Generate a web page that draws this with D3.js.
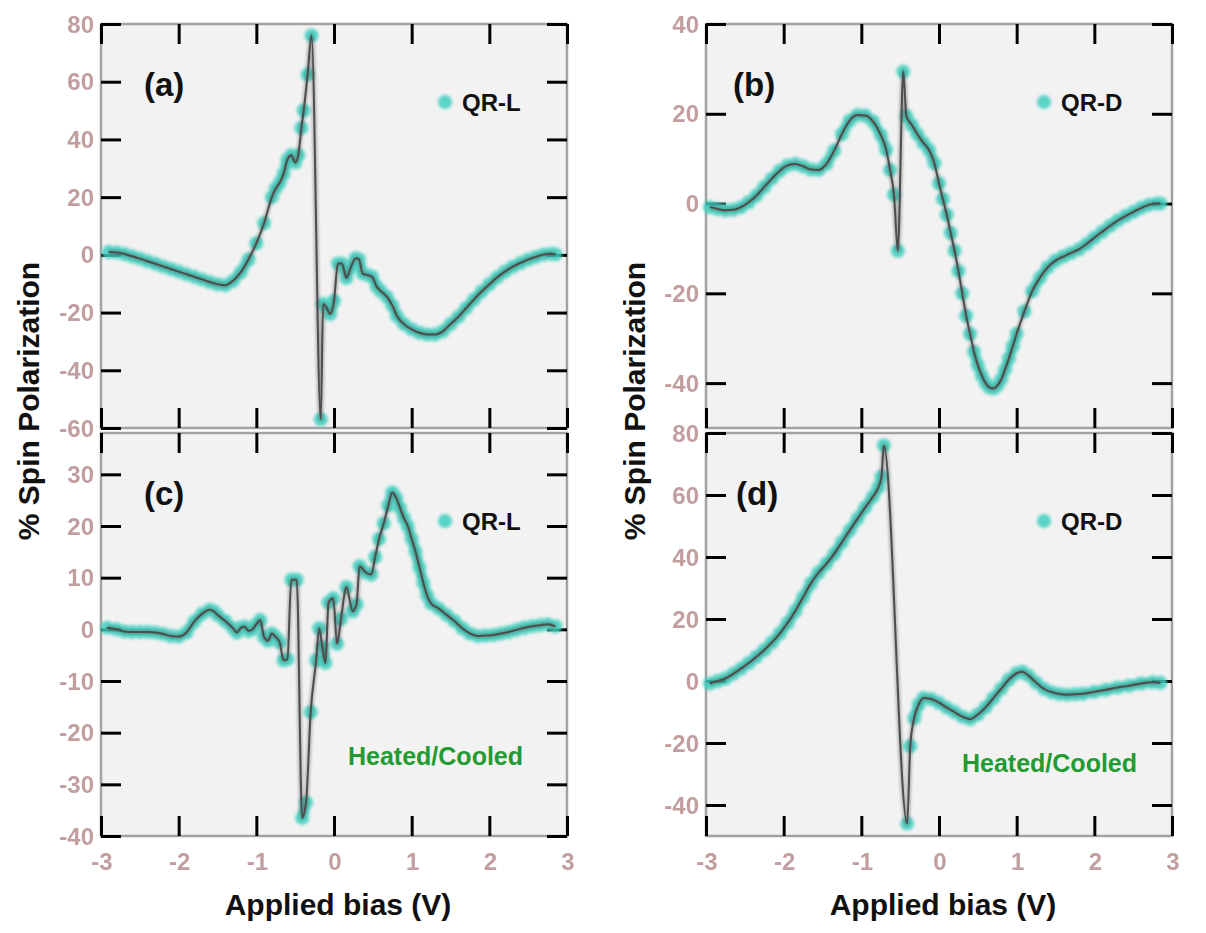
<!DOCTYPE html>
<html>
<head>
<meta charset="utf-8">
<script src="https://cdn.jsdelivr.net/npm/d3@7"></script>
<style>
  html, body { margin: 0; padding: 0; background: #ffffff; }
  svg { display: block; }
  text { font-family: "Liberation Sans", Arial, Helvetica, sans-serif; }
</style>
</head>
<body>
<svg id="chart" width="1206" height="933"></svg>
<script>
// ---------------- DATA ----------------
const xTickValues = [-3, -2, -1, 0, 1, 2, 3];
const xTickLabels = ["-3", "-2", "-1", "0", "1", "2", "3"];

const yTicksA = [-60, -40, -20, 0, 20, 40, 60, 80];
const yTicksB = [-40, -20, 0, 20, 40];
const yTicksC = [-40, -30, -20, -10, 0, 10, 20, 30];
const yTicksD = [-40, -20, 0, 20, 40, 60, 80];

const panelLabels = ["(a)", "(b)", "(c)", "(d)"];
const legendLabels = ["QR-L", "QR-D", "QR-L", "QR-D"];
const noteLabels = ["", "", "Heated/Cooled", "Heated/Cooled"];
const xTitle = "Applied bias (V)";
const yTitle = "% Spin Polarization";

// Panel (a) QR-L
const biasA = [-2.9, -2.8, -2.7, -2.6, -2.5, -2.4, -2.3, -2.2, -2.1, -2.0, -1.9, -1.8, -1.7, -1.6, -1.5, -1.4, -1.3, -1.2, -1.1, -1.0,
  -0.9, -0.8, -0.75, -0.7, -0.65, -0.6, -0.55, -0.5, -0.46, -0.42, -0.39, -0.34, -0.29, -0.17, -0.14, -0.1, -0.05, 0.0, 0.05, 0.1,
  0.16, 0.22, 0.28, 0.32, 0.37, 0.43, 0.49, 0.55, 0.6, 0.68, 0.75, 0.81, 0.9, 1.0, 1.1, 1.2, 1.3, 1.4, 1.5, 1.6,
  1.7, 1.8, 1.9, 2.0, 2.1, 2.2, 2.3, 2.4, 2.5, 2.6, 2.7, 2.8, 2.85];
const spinA = [1.0, 0.8, 0.3, -0.5, -1.3, -2.2, -3.1, -4.0, -4.9, -5.8, -6.7, -7.6, -8.5, -9.4, -10.2, -10.5, -9.0, -6.0, -1.5, 4.0,
  11, 20, 23, 25, 28, 33, 34.5, 32, 34.5, 44, 50, 62.5, 76, -57, -17, -18, -20.5, -16, -3, -3,
  -8, -4, -1.2, -1.5, -6.5, -7, -7.6, -11, -12.5, -14.5, -17.5, -21.2, -24, -25.8, -27, -27.6, -27.6, -26.5, -24, -21.5,
  -18.5, -15.5, -12.7, -10.2, -7.8, -5.8, -4.1, -2.8, -1.6, -0.7, 0.1, 0.4, 0.2];

// Panel (b) QR-D
const biasB = [-2.95, -2.85, -2.75, -2.65, -2.55, -2.45, -2.35, -2.25, -2.15, -2.05, -1.95, -1.85, -1.75, -1.65, -1.55, -1.45, -1.35, -1.25, -1.15, -1.05,
  -0.95, -0.85, -0.75, -0.68, -0.63, -0.58, -0.53, -0.46, -0.42, -0.35, -0.28, -0.2, -0.13, -0.06, 0.0, 0.05, 0.1, 0.15, 0.2, 0.25,
  0.3, 0.35, 0.4, 0.45, 0.5, 0.55, 0.6, 0.65, 0.7, 0.75, 0.8, 0.85, 0.9, 0.95, 1.0, 1.1, 1.2, 1.3, 1.4, 1.5,
  1.6, 1.7, 1.8, 1.9, 2.0, 2.1, 2.2, 2.3, 2.4, 2.5, 2.6, 2.7, 2.8, 2.85];
const spinB = [-0.8, -1.2, -1.5, -1.4, -0.8, 0.3, 1.8, 3.7, 5.6, 7.3, 8.5, 8.8, 8.3, 7.6, 7.5, 8.8, 11.8, 15.5, 18.5, 19.7,
  19.6, 18.3, 15.3, 12, 7.5, 2, -10.5, 29.4, 19.5, 17.5, 15.5, 13.5, 12, 9, 4.5, 1, -2.5, -6.5, -10.5, -15,
  -20, -25, -29, -33, -36, -38.3, -40, -41, -41.2, -40.6, -39.2, -37, -34.5, -31.8, -29, -24, -19.5, -16.5, -14.2, -12.7,
  -11.8, -11, -10.2, -9, -7.6, -6.3, -5, -3.8, -2.8, -1.9, -1.0, -0.3, 0, 0];

// Panel (c) QR-L heated/cooled
const biasC = [-2.92, -2.8, -2.7, -2.6, -2.5, -2.4, -2.3, -2.2, -2.1, -2.0, -1.9, -1.8, -1.7, -1.6, -1.55, -1.5, -1.4, -1.3, -1.25, -1.2,
  -1.15, -1.1, -1.05, -1.0, -0.95, -0.9, -0.85, -0.8, -0.75, -0.7, -0.65, -0.6, -0.55, -0.48, -0.41, -0.36, -0.3, -0.23, -0.19, -0.15,
  -0.11, -0.07, -0.01, 0.04, 0.09, 0.16, 0.24, 0.29, 0.33, 0.41, 0.48, 0.53, 0.58, 0.64, 0.7, 0.75, 0.8, 0.85, 0.9, 0.95,
  1.0, 1.05, 1.1, 1.15, 1.2, 1.25, 1.35, 1.45, 1.55, 1.65, 1.75, 1.85, 1.95, 2.05, 2.15, 2.25, 2.35, 2.45, 2.55, 2.65,
  2.75, 2.85];
const spinC = [0.3, 0, -0.4, -0.5, -0.5, -0.5, -0.6, -0.9, -1.3, -1.4, -0.6, 1.5, 3.0, 3.8, 3.5, 2.8, 1.6, 0.2, -0.6, 0.3,
  0.5, -0.3, 0, 1.0, 1.8, -1.5, -2.2, -0.8, -1.5, -2.5, -6, -5.8, 9.6, 9.6, -36.5, -33.5, -16, -6, 0.2, -3.5,
  -6.5, 5.2, 6, -2.8, 2, 8.2, 3.5, 4.8, 12.2, 11, 10.6, 14, 17.5, 20.5, 24, 26.5, 25.5, 23.5, 21.5, 20,
  17.5, 15, 12, 9, 6.5, 5, 4, 2.8, 1.6, 0.2, -0.8, -1.3, -1.2, -1.1, -0.8, -0.5, -0.1, 0.3, 0.6, 0.8,
  1.0, 0.6];

// Panel (d) QR-D heated/cooled
const biasD = [-2.95, -2.85, -2.75, -2.65, -2.55, -2.45, -2.35, -2.25, -2.15, -2.05, -1.95, -1.85, -1.75, -1.65, -1.55, -1.45, -1.35, -1.25, -1.15, -1.05,
  -0.95, -0.85, -0.78, -0.74, -0.71, -0.41, -0.37, -0.32, -0.26, -0.2, -0.1, 0.0, 0.1, 0.2, 0.3, 0.4, 0.5, 0.6, 0.7, 0.8,
  0.9, 1.0, 1.07, 1.15, 1.25, 1.35, 1.45, 1.55, 1.65, 1.75, 1.85, 2.0, 2.15, 2.3, 2.45, 2.6, 2.75, 2.85];
const spinD = [-0.8, 0, 0.8, 2.3, 4.0, 5.8, 7.8, 10, 12.5, 15.3, 18.7, 22.6, 27, 31.5, 35, 37.8, 41, 44.8, 48.6, 52.3,
  56, 59.5, 62.5, 66, 76, -46, -21, -12, -7.5, -5.5, -5.8, -7, -8.6, -10, -11.5, -12.3, -10.8, -8.5, -5.5, -2.5,
  0.5, 2.5, 3, 1.8, -0.5, -2.5, -3.6, -4.2, -4.4, -4.3, -4.1, -3.5, -2.8, -2.1, -1.5, -0.8, -0.4, -0.6];

// ---------------- LAYOUT ----------------
const svg = d3.select("#chart");
const defs = svg.append("defs");
defs.append("filter").attr("id", "blurDots").attr("x", "-50%").attr("y", "-50%").attr("width", "200%").attr("height", "200%")
  .append("feGaussianBlur").attr("stdDeviation", 1.5);
defs.append("filter").attr("id", "blurShadow").attr("x", "-20%").attr("y", "-20%").attr("width", "140%").attr("height", "140%")
  .append("feGaussianBlur").attr("stdDeviation", 1.8);
defs.append("filter").attr("id", "soft").attr("x", "-10%").attr("y", "-10%").attr("width", "120%").attr("height", "120%")
  .append("feGaussianBlur").attr("stdDeviation", 0.4);

const panels = [
  { x0: 101, x1: 567, y0: 24, y1: 428, domain: [-60, 80], yTicks: yTicksA, bias: biasA, spin: spinA, xLabels: false,
    lab: [144, 96], leg: [445, 102], note: null },
  { x0: 706, x1: 1172, y0: 24, y1: 428, domain: [-50, 40], yTicks: yTicksB, bias: biasB, spin: spinB, xLabels: false,
    lab: [733, 96], leg: [1044, 102], note: null },
  { x0: 101, x1: 567, y0: 433, y1: 836, domain: [-40, 38], yTicks: yTicksC, bias: biasC, spin: spinC, xLabels: true,
    lab: [144, 505], leg: [445, 521], note: [348, 765] },
  { x0: 706, x1: 1172, y0: 433, y1: 836, domain: [-50, 80], yTicks: yTicksD, bias: biasD, spin: spinD, xLabels: true,
    lab: [736, 505], leg: [1044, 521], note: [962, 772] }
];

const tickColor = "#c29e9e";
const turq = "#3fcfbf";

panels.forEach((p, i) => {
  const x = d3.scaleLinear().domain([-3, 3]).range([p.x0, p.x1]);
  const y = d3.scaleLinear().domain(p.domain).range([p.y1, p.y0]);
  const g = svg.append("g");

  // background
  g.append("rect").attr("x", p.x0).attr("y", p.y0).attr("width", p.x1 - p.x0).attr("height", p.y1 - p.y0)
    .attr("fill", "#f2f2f2").attr("stroke", "#a2a2a2").attr("stroke-width", 2.5);

  // ticks (inward, mirrored)
  const tl = 20;
  const bottomAxis = d3.axisBottom(x).tickValues(xTickValues).tickSize(-tl).tickFormat("");
  const topAxis = d3.axisTop(x).tickValues(xTickValues).tickSize(-tl).tickFormat("");
  const leftAxis = d3.axisLeft(y).tickValues(p.yTicks).tickSize(-tl).tickFormat("");
  const rightAxis = d3.axisRight(y).tickValues(p.yTicks).tickSize(-tl).tickFormat("");
  [[bottomAxis, `translate(0,${p.y1})`], [topAxis, `translate(0,${p.y0})`],
   [leftAxis, `translate(${p.x0},0)`], [rightAxis, `translate(${p.x1},0)`]].forEach(([ax, tr]) => {
    const a = g.append("g").attr("transform", tr).call(ax);
    a.select(".domain").remove();
    a.selectAll(".tick line").attr("stroke", "#000").attr("stroke-width", 3);
  });

  // y tick labels
  g.append("g").attr("filter", "url(#soft)").selectAll("text").data(p.yTicks).join("text")
    .attr("x", p.x0 - 7).attr("y", d => y(d)).attr("dy", "0.36em")
    .attr("text-anchor", "end").attr("font-size", 24).attr("font-weight", "bold").attr("fill", tickColor)
    .text(d => String(d));

  // x tick labels
  if (p.xLabels) {
    g.append("g").attr("filter", "url(#soft)").selectAll("text").data(xTickValues).join("text")
      .attr("x", d => x(d) + 1).attr("y", p.y1 + 34)
      .attr("text-anchor", "middle").attr("font-size", 24).attr("font-weight", "bold").attr("fill", tickColor)
      .text((d, k) => xTickLabels[k]);
    g.append("text").attr("x", (p.x0 + p.x1) / 2 + 4).attr("y", 915)
      .attr("text-anchor", "middle").attr("font-size", 30).attr("font-weight", "bold").attr("fill", "#111")
      .text(xTitle);
  }

  // data
  const pts = p.bias.map((b, k) => [b, p.spin[k]]);
  const line = d3.line().x(d => x(d[0])).y(d => y(d[1])).curve(d3.curveMonotoneX);

  // turquoise band: markers plus joins between close neighbours
  const band = g.append("g").attr("filter", "url(#blurDots)").attr("opacity", 0.85);
  const pairs = d3.pairs(pts).filter(([a, b]) => Math.hypot(x(b[0]) - x(a[0]), y(b[1]) - y(a[1])) < 16);
  band.selectAll("path").data(pairs).join("path")
    .attr("d", d => d3.line().x(q => x(q[0])).y(q => y(q[1]))(d))
    .attr("stroke", turq).attr("stroke-width", 11).attr("stroke-linecap", "round").attr("fill", "none");
  band.selectAll("circle").data(pts).join("circle")
    .attr("cx", d => x(d[0])).attr("cy", d => y(d[1])).attr("r", 7)
    .attr("fill", turq);

  g.append("path").datum(pts).attr("d", line).attr("fill", "none")
    .attr("stroke", "#222").attr("stroke-opacity", 0.35).attr("stroke-width", 4).attr("filter", "url(#blurShadow)");
  g.append("path").datum(pts).attr("d", line).attr("fill", "none")
    .attr("stroke", "#4d4d4d").attr("stroke-width", 2).attr("stroke-linejoin", "round");

  // panel label
  g.append("text").attr("x", p.lab[0]).attr("y", p.lab[1]).attr("font-size", 33).attr("font-weight", "bold")
    .attr("fill", "#111").text(panelLabels[i]);

  // legend
  g.append("circle").attr("cx", p.leg[0]).attr("cy", p.leg[1]).attr("r", 7).attr("fill", turq)
    .attr("fill-opacity", 0.85).attr("filter", "url(#blurDots)");
  g.append("text").attr("x", p.leg[0] + 17).attr("y", p.leg[1]).attr("dy", "0.36em")
    .attr("font-size", 24).attr("font-weight", "bold").attr("fill", "#111").text(legendLabels[i]);

  if (p.note) {
    g.append("text").attr("x", p.note[0]).attr("y", p.note[1]).attr("font-size", 25).attr("font-weight", "bold")
      .attr("fill", "#239b33").text(noteLabels[i]);
  }
});

// y axis titles
[[39, 401], [645, 401]].forEach(([tx, ty]) => {
  svg.append("text").attr("transform", `translate(${tx},${ty}) rotate(-90)`)
    .attr("text-anchor", "middle").attr("font-size", 30).attr("font-weight", "bold").attr("fill", "#111")
    .text(yTitle);
});
</script>
</body>
</html>
